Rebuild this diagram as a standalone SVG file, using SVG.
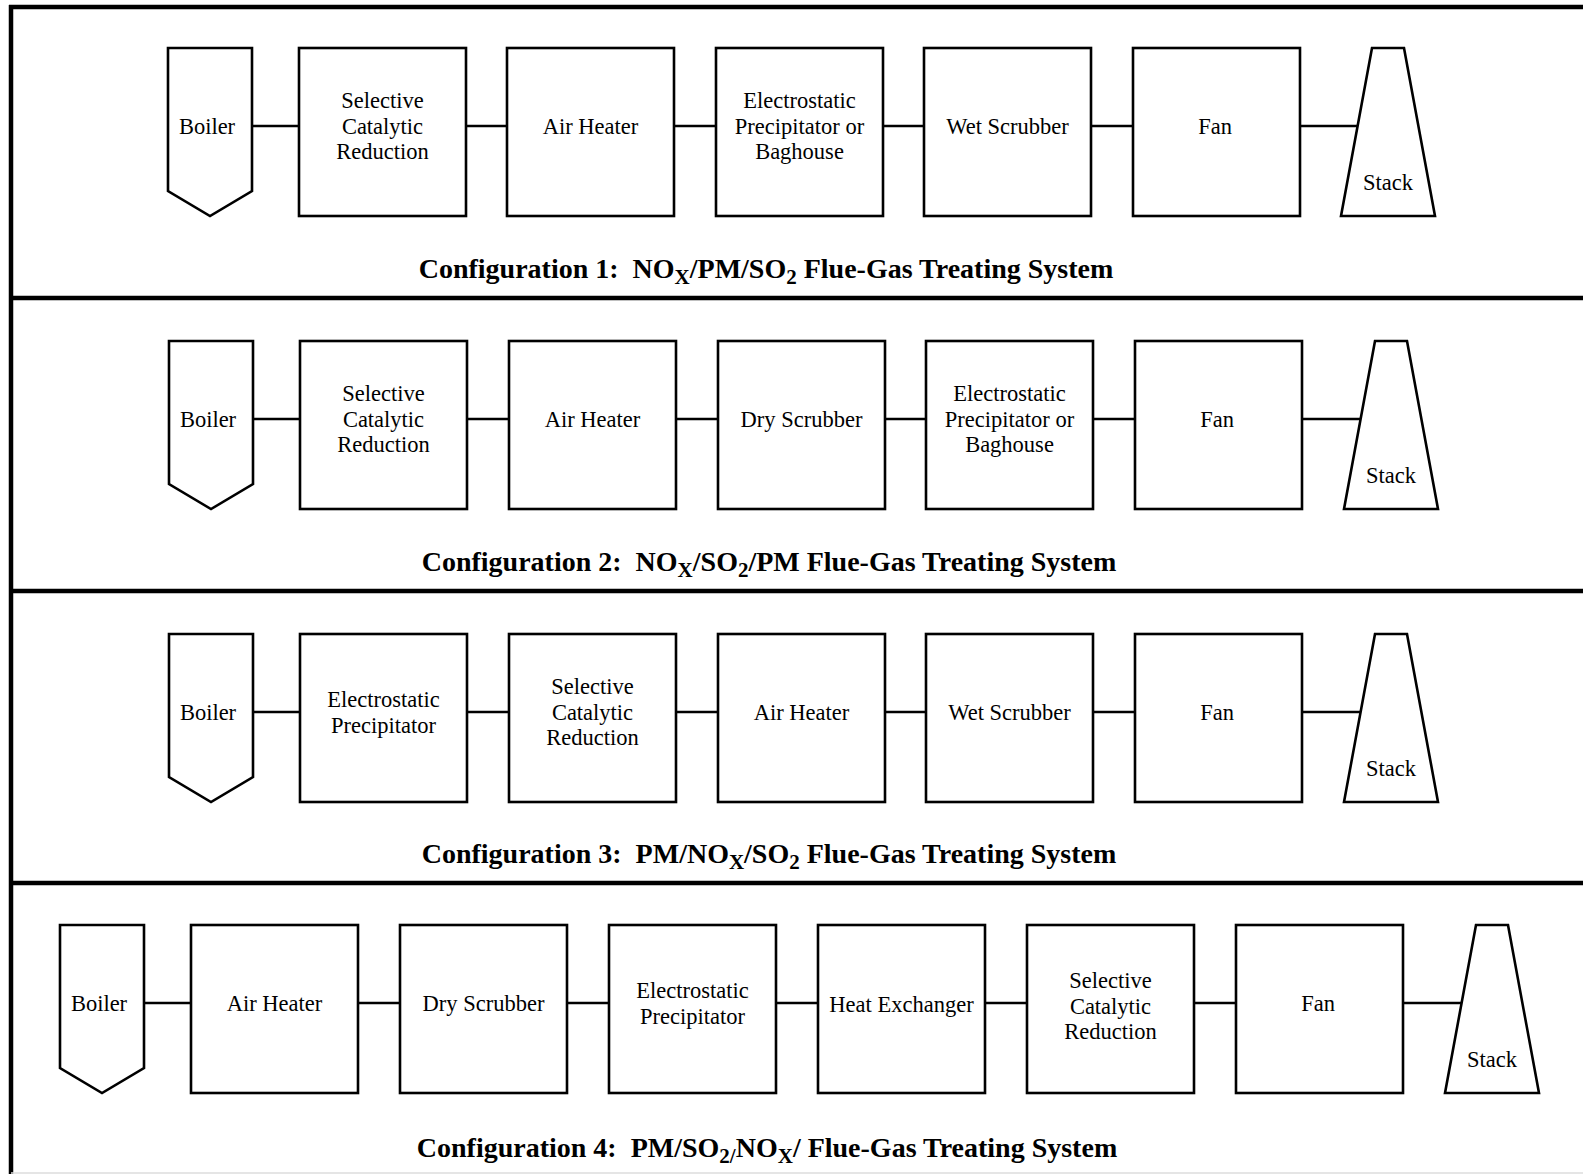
<svg xmlns="http://www.w3.org/2000/svg" width="1583" height="1174" viewBox="0 0 1583 1174">
<style>
.frame{stroke:#000;stroke-width:4.5;fill:none}
.shape{fill:#fff;stroke:#000;stroke-width:2.6}
.conn line{stroke:#000;stroke-width:2.6}
.lbl{font-family:"Liberation Serif","Times New Roman",serif;font-size:22.5px;fill:#000;text-anchor:middle}
.title{font-family:"Liberation Serif","Times New Roman",serif;font-size:28px;font-weight:bold;fill:#000;text-anchor:middle;white-space:pre}
.sub{font-size:21px}
</style>
<rect width="1583" height="1174" fill="#fff"/>
<g id="frame">
<line class="frame" x1="9" y1="7" x2="1583" y2="7"/>
<line class="frame" x1="11" y1="5" x2="11" y2="1174"/>
<line class="frame" x1="9" y1="298" x2="1583" y2="298"/>
<line class="frame" x1="9" y1="591" x2="1583" y2="591"/>
<line class="frame" x1="9" y1="883" x2="1583" y2="883"/>
<line x1="11" y1="1173" x2="1583" y2="1173" stroke="#dcdcdc" stroke-width="1.5"/>
</g>

<g id="connectors" class="conn">
<line x1="252" y1="126" x2="299" y2="126"/>
<line x1="466" y1="126" x2="507" y2="126"/>
<line x1="674" y1="126" x2="716" y2="126"/>
<line x1="883" y1="126" x2="924" y2="126"/>
<line x1="1091" y1="126" x2="1133" y2="126"/>
<line x1="1300" y1="126" x2="1358" y2="126"/>

<line x1="253" y1="419" x2="300" y2="419"/>
<line x1="467" y1="419" x2="509" y2="419"/>
<line x1="676" y1="419" x2="718" y2="419"/>
<line x1="885" y1="419" x2="926" y2="419"/>
<line x1="1093" y1="419" x2="1135" y2="419"/>
<line x1="1302" y1="419" x2="1361" y2="419"/>

<line x1="253" y1="712" x2="300" y2="712"/>
<line x1="467" y1="712" x2="509" y2="712"/>
<line x1="676" y1="712" x2="718" y2="712"/>
<line x1="885" y1="712" x2="926" y2="712"/>
<line x1="1093" y1="712" x2="1135" y2="712"/>
<line x1="1302" y1="712" x2="1361" y2="712"/>

<line x1="144" y1="1003" x2="191" y2="1003"/>
<line x1="358" y1="1003" x2="400" y2="1003"/>
<line x1="567" y1="1003" x2="609" y2="1003"/>
<line x1="776" y1="1003" x2="818" y2="1003"/>
<line x1="985" y1="1003" x2="1027" y2="1003"/>
<line x1="1194" y1="1003" x2="1236" y2="1003"/>
<line x1="1403" y1="1003" x2="1462" y2="1003"/>
</g>

<!-- Configuration 1 -->
<g id="c1-boiler"><polygon class="shape" points="168,48 252,48 252,191 210,216 168,191"/><text class="lbl" x="207" y="134">Boiler</text></g>
<g id="c1-scr"><rect class="shape" x="299" y="48" width="167" height="168"/><text class="lbl" x="382.5" y="108">Selective</text><text class="lbl" x="382.5" y="134">Catalytic</text><text class="lbl" x="382.5" y="159">Reduction</text></g>
<g id="c1-ah"><rect class="shape" x="507" y="48" width="167" height="168"/><text class="lbl" x="590.5" y="134">Air Heater</text></g>
<g id="c1-esp"><rect class="shape" x="716" y="48" width="167" height="168"/><text class="lbl" x="799.5" y="108">Electrostatic</text><text class="lbl" x="799.5" y="134">Precipitator or</text><text class="lbl" x="799.5" y="159">Baghouse</text></g>
<g id="c1-ws"><rect class="shape" x="924" y="48" width="167" height="168"/><text class="lbl" x="1007.5" y="134">Wet Scrubber</text></g>
<g id="c1-fan"><rect class="shape" x="1133" y="48" width="167" height="168"/><text class="lbl" x="1215" y="134">Fan</text></g>
<g id="c1-stack"><polygon class="shape" points="1341,216 1372,48 1404,48 1435,216"/><text class="lbl" x="1388" y="190">Stack</text></g>
<g id="c1-title"><text class="title" x="766" y="278">Configuration 1:  NO<tspan class="sub" dy="6">X</tspan><tspan dy="-6">/PM/SO</tspan><tspan class="sub" dy="6">2</tspan><tspan dy="-6"> Flue-Gas Treating System</tspan></text></g>

<!-- Configuration 2 -->
<g id="c2-boiler"><polygon class="shape" points="169,341 253,341 253,484 211,509 169,484"/><text class="lbl" x="208" y="427">Boiler</text></g>
<g id="c2-scr"><rect class="shape" x="300" y="341" width="167" height="168"/><text class="lbl" x="383.5" y="401">Selective</text><text class="lbl" x="383.5" y="427">Catalytic</text><text class="lbl" x="383.5" y="452">Reduction</text></g>
<g id="c2-ah"><rect class="shape" x="509" y="341" width="167" height="168"/><text class="lbl" x="592.5" y="427">Air Heater</text></g>
<g id="c2-ds"><rect class="shape" x="718" y="341" width="167" height="168"/><text class="lbl" x="801.5" y="427">Dry Scrubber</text></g>
<g id="c2-esp"><rect class="shape" x="926" y="341" width="167" height="168"/><text class="lbl" x="1009.5" y="401">Electrostatic</text><text class="lbl" x="1009.5" y="427">Precipitator or</text><text class="lbl" x="1009.5" y="452">Baghouse</text></g>
<g id="c2-fan"><rect class="shape" x="1135" y="341" width="167" height="168"/><text class="lbl" x="1217" y="427">Fan</text></g>
<g id="c2-stack"><polygon class="shape" points="1344,509 1375,341 1407,341 1438,509"/><text class="lbl" x="1391" y="483">Stack</text></g>
<g id="c2-title"><text class="title" x="769" y="571">Configuration 2:  NO<tspan class="sub" dy="6">X</tspan><tspan dy="-6">/SO</tspan><tspan class="sub" dy="6">2</tspan><tspan dy="-6">/PM Flue-Gas Treating System</tspan></text></g>

<!-- Configuration 3 -->
<g id="c3-boiler"><polygon class="shape" points="169,634 253,634 253,777 211,802 169,777"/><text class="lbl" x="208" y="720">Boiler</text></g>
<g id="c3-esp"><rect class="shape" x="300" y="634" width="167" height="168"/><text class="lbl" x="383.5" y="707">Electrostatic</text><text class="lbl" x="383.5" y="733">Precipitator</text></g>
<g id="c3-scr"><rect class="shape" x="509" y="634" width="167" height="168"/><text class="lbl" x="592.5" y="694">Selective</text><text class="lbl" x="592.5" y="720">Catalytic</text><text class="lbl" x="592.5" y="745">Reduction</text></g>
<g id="c3-ah"><rect class="shape" x="718" y="634" width="167" height="168"/><text class="lbl" x="801.5" y="720">Air Heater</text></g>
<g id="c3-ws"><rect class="shape" x="926" y="634" width="167" height="168"/><text class="lbl" x="1009.5" y="720">Wet Scrubber</text></g>
<g id="c3-fan"><rect class="shape" x="1135" y="634" width="167" height="168"/><text class="lbl" x="1217" y="720">Fan</text></g>
<g id="c3-stack"><polygon class="shape" points="1344,802 1375,634 1407,634 1438,802"/><text class="lbl" x="1391" y="776">Stack</text></g>
<g id="c3-title"><text class="title" x="769" y="863">Configuration 3:  PM/NO<tspan class="sub" dy="6">X</tspan><tspan dy="-6">/SO</tspan><tspan class="sub" dy="6">2</tspan><tspan dy="-6"> Flue-Gas Treating System</tspan></text></g>

<!-- Configuration 4 -->
<g id="c4-boiler"><polygon class="shape" points="60,925 144,925 144,1068 102,1093 60,1068"/><text class="lbl" x="99" y="1011">Boiler</text></g>
<g id="c4-ah"><rect class="shape" x="191" y="925" width="167" height="168"/><text class="lbl" x="274.5" y="1011">Air Heater</text></g>
<g id="c4-ds"><rect class="shape" x="400" y="925" width="167" height="168"/><text class="lbl" x="483.5" y="1011">Dry Scrubber</text></g>
<g id="c4-esp"><rect class="shape" x="609" y="925" width="167" height="168"/><text class="lbl" x="692.5" y="998">Electrostatic</text><text class="lbl" x="692.5" y="1024">Precipitator</text></g>
<g id="c4-he"><rect class="shape" x="818" y="925" width="167" height="168"/><text class="lbl" x="901.5" y="1012">Heat Exchanger</text></g>
<g id="c4-scr"><rect class="shape" x="1027" y="925" width="167" height="168"/><text class="lbl" x="1110.5" y="988">Selective</text><text class="lbl" x="1110.5" y="1014">Catalytic</text><text class="lbl" x="1110.5" y="1039">Reduction</text></g>
<g id="c4-fan"><rect class="shape" x="1236" y="925" width="167" height="168"/><text class="lbl" x="1318" y="1011">Fan</text></g>
<g id="c4-stack"><polygon class="shape" points="1445,1093 1476,925 1508,925 1539,1093"/><text class="lbl" x="1492" y="1067">Stack</text></g>
<g id="c4-title"><text class="title" x="767" y="1157">Configuration 4:  PM/SO<tspan class="sub" dy="6">2/</tspan><tspan dy="-6">NO</tspan><tspan class="sub" dy="6">X</tspan><tspan dy="-6">/ Flue-Gas Treating System</tspan></text></g>
</svg>
